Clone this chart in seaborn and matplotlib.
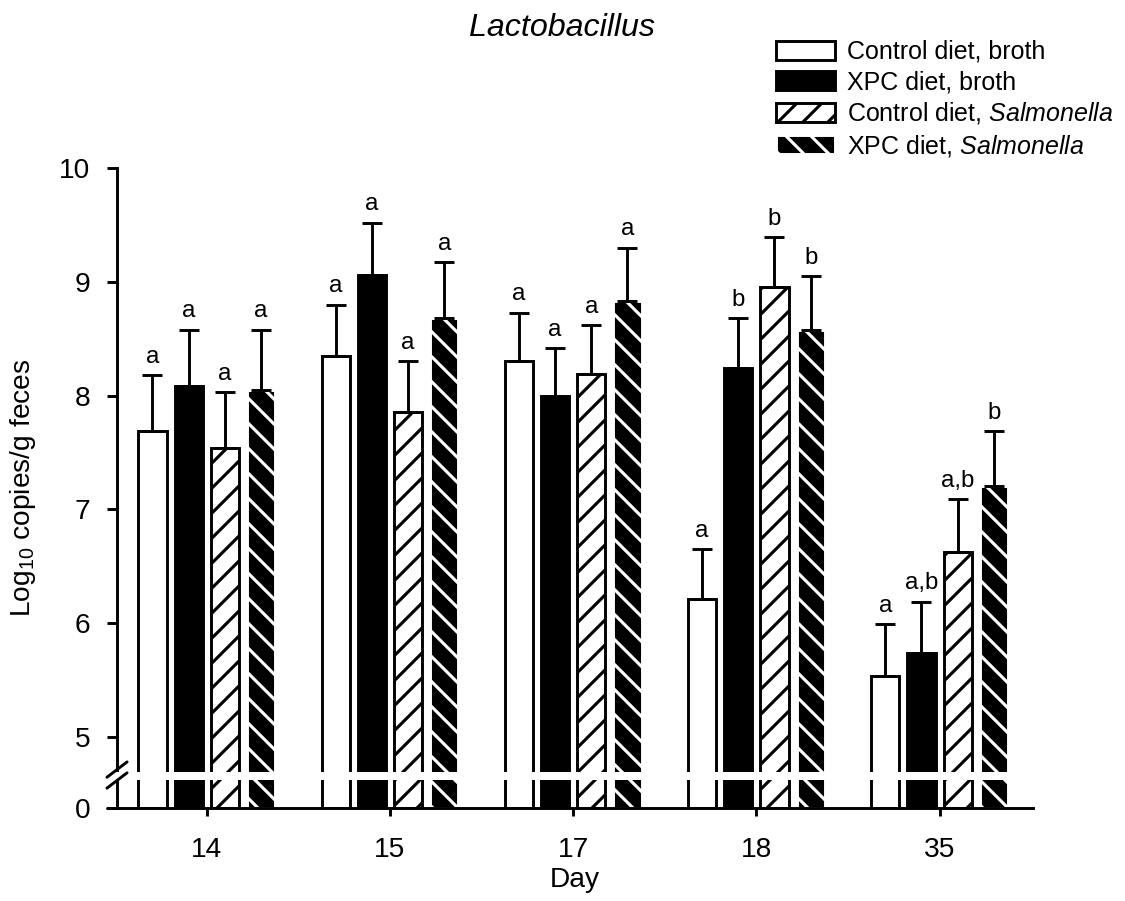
"""
Lactobacillus counts in feces by day and treatment.
Grouped barplot with a broken y axis (0 ... 5-10).
"""

import numpy as np
import pandas as pd
import seaborn as sns
import matplotlib.pyplot as plt
from matplotlib.patches import Patch, Rectangle
from matplotlib.lines import Line2D

DAYS = ["14", "15", "17", "18", "35"]
TREATMENTS = ["Control diet, broth", "XPC diet, broth",
              "Control diet, Salmonella", "XPC diet, Salmonella"]
LEGEND_LABELS = ["Control diet, broth", "XPC diet, broth",
                 "Control diet, $\\it{Salmonella}$",
                 "XPC diet, $\\it{Salmonella}$"]

# mean log10 copies/g, one list per treatment (in DAYS order)
CONTROL_BROTH = [7.69, 8.35, 8.30, 6.21, 5.54]
XPC_BROTH = [8.08, 9.06, 8.00, 8.24, 5.74]
CONTROL_SALM = [7.54, 7.86, 8.19, 8.95, 6.63]
XPC_SALM = [8.05, 8.68, 8.83, 8.58, 7.21]

# upper error (SEM)
ERR_CONTROL_BROTH = [0.49, 0.45, 0.43, 0.44, 0.45]
ERR_XPC_BROTH = [0.50, 0.46, 0.42, 0.44, 0.45]
ERR_CONTROL_SALM = [0.49, 0.44, 0.43, 0.44, 0.46]
ERR_XPC_SALM = [0.53, 0.49, 0.47, 0.47, 0.48]

# significance letters
LET_CONTROL_BROTH = ["a", "a", "a", "a", "a"]
LET_XPC_BROTH = ["a", "a", "a", "b", "a,b"]
LET_CONTROL_SALM = ["a", "a", "a", "b", "a,b"]
LET_XPC_SALM = ["a", "a", "a", "b", "b"]

Y_TICKS = [0, 5, 6, 7, 8, 9, 10]

# broken axis: everything below BREAK is squeezed
BREAK = 4.8
SQUEEZE = 0.0883


def forward(y):
    y = np.asarray(y, dtype=float)
    return np.where(y >= BREAK, y, BREAK - (BREAK - y) * SQUEEZE)


def inverse(v):
    v = np.asarray(v, dtype=float)
    return np.where(v >= BREAK, v, BREAK - (BREAK - v) / SQUEEZE)


sns.set_style("ticks")
plt.rcParams["font.family"] = ["Liberation Sans", "DejaVu Sans"]
plt.rcParams["mathtext.fontset"] = "custom"
plt.rcParams["mathtext.rm"] = "Liberation Sans"
plt.rcParams["mathtext.it"] = "Liberation Sans:italic"
plt.rcParams["hatch.linewidth"] = 1.5
for key in ["text.color", "axes.labelcolor", "axes.edgecolor",
            "xtick.color", "ytick.color"]:
    plt.rcParams[key] = "black"

means = [CONTROL_BROTH, XPC_BROTH, CONTROL_SALM, XPC_SALM]
errors = [ERR_CONTROL_BROTH, ERR_XPC_BROTH, ERR_CONTROL_SALM, ERR_XPC_SALM]
letters = [LET_CONTROL_BROTH, LET_XPC_BROTH, LET_CONTROL_SALM, LET_XPC_SALM]

df = pd.DataFrame({
    "Day": DAYS * len(TREATMENTS),
    "Treatment": np.repeat(TREATMENTS, len(DAYS)),
    "Value": np.concatenate(means),
})

fig = plt.figure(figsize=(7.5, 901 / 150), dpi=150)
ax = fig.add_axes([117 / 1125, 1 - 808 / 901, 916 / 1125, 640 / 901])
ax.set_yscale("function", functions=(forward, inverse))

faces = ["white", "black", "white", "black"]
edges = ["black", "black", "black", "white"]
hatches = [None, None, "//", "\\\\"]

sns.barplot(data=df, x="Day", y="Value", hue="Treatment",
            order=DAYS, hue_order=TREATMENTS, palette=faces,
            width=0.79, gap=0.22, errorbar=None, legend=False,
            edgecolor="black", linewidth=1.4, saturation=1, ax=ax)

bar_containers = list(ax.containers)
for i, container in enumerate(bar_containers):
    xs = []
    for bar in container.patches:
        bar.set_facecolor(faces[i])
        bar.set_edgecolor(edges[i])
        if hatches[i]:
            bar.set_hatch(hatches[i])
        xs.append(bar.get_x() + bar.get_width() / 2)
    tops = np.array(means[i]) + np.array(errors[i])
    ax.errorbar(xs, means[i], yerr=[np.zeros(len(DAYS)), errors[i]],
                fmt="none", ecolor="black", elinewidth=1.4,
                capsize=4.8, capthick=1.4, zorder=2)
    for x, top, letter in zip(xs, tops, letters[i]):
        ax.annotate(letter, (x, top), xytext=(0, 3.5),
                    textcoords="offset points", ha="center",
                    va="bottom", fontsize=11.5)

ax.set_ylim(0, 10)
ax.set_xlim(-0.49, 4.51)
ax.set_yticks(Y_TICKS)
ax.set_yticklabels([str(t) for t in Y_TICKS])
ax.minorticks_off()
sns.despine(ax=ax)
for side in ["left", "bottom"]:
    ax.spines[side].set_linewidth(1.4)
ax.tick_params(axis="y", length=4.8, width=1.4, pad=8, labelsize=13.5)
ax.tick_params(axis="x", length=4, width=1.4, pad=10, labelsize=13.5)

ax.set_xlabel("Day", fontsize=13.5, labelpad=2)
ax.set_ylabel("Log$_{10}$ copies/g feces", fontsize=13.5, labelpad=10)

# axis break: white band through the bars plus the // marks
ax.add_patch(Rectangle((-0.02, 0.044), 1.02, 0.0125, transform=ax.transAxes,
                       facecolor="white", edgecolor="none", zorder=3,
                       clip_on=False))
for y0, y1 in [(0.048, 0.072), (0.031, 0.055)]:
    ax.add_line(Line2D([-0.011, 0.011], [y0, y1], transform=ax.transAxes,
                       color="black", lw=1.4, zorder=4, clip_on=False))
ax.add_line(Line2D([-0.011, 0], [0, 0], transform=ax.transAxes,
                   color="black", lw=1.4, zorder=4, clip_on=False))

fig.text(0.5, 1 - 28 / 901, "Lactobacillus", style="italic",
         ha="center", va="center", fontsize=15.5)

handles = [Patch(facecolor=f, edgecolor=e, hatch=h, linewidth=1.4)
           for f, e, h in zip(faces, edges, hatches)]
fig.legend(handles, LEGEND_LABELS, loc="upper left",
           bbox_to_anchor=(776 / 1125, 1 - 40 / 901), frameon=False,
           fontsize=12, handlelength=2.35, handleheight=0.8,
           handletextpad=0.5, labelspacing=0.25, borderpad=0,
           borderaxespad=0)

fig.savefig("out.png", dpi=150)
